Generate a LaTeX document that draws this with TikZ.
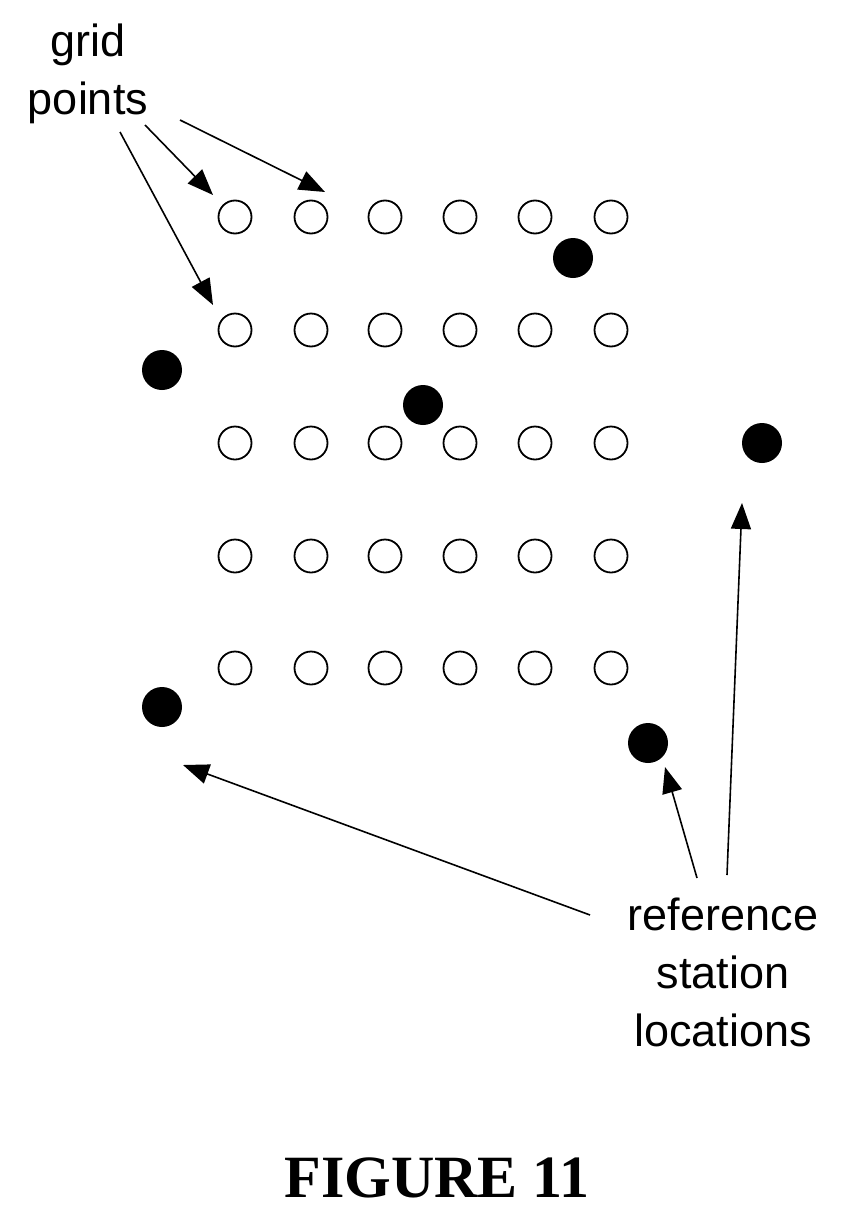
\documentclass[tikz,border=0pt]{standalone}
\usepackage{fontspec}
\setmainfont{Liberation Sans}
\newfontfamily\figfont{Liberation Serif}
\usetikzlibrary{arrows.meta}
\begin{document}
\begin{tikzpicture}[x=1pt,y=-1pt,
  grid/.style={circle,draw,line width=1.8pt,fill=white,minimum size=33pt,inner sep=0pt},
  st/.style={circle,fill=black,minimum size=40pt,inner sep=0pt},
  lab/.style={font=\fontsize{45}{58}\selectfont,align=center},
  arr/.style={line width=1.6pt,-{Triangle[length=26pt,width=20pt]}}]
\useasboundingbox (0,0) rectangle (847,1218);
\foreach \r/\y in {1/217,2/330,3/443,4/556,5/668}
  \foreach \c/\x in {1/235,2/311,3/385,4/460,5/535,6/611}
    \node[grid] (g\r\c) at (\x,\y) {};
\node[st] (s1) at (573,258) {};
\node[st] (s2) at (162,370) {};
\node[st] (s3) at (423,405) {};
\node[st] (s4) at (762,443) {};
\node[st] (s5) at (162,707) {};
\node[st] (s6) at (648,743) {};
\node[lab] (gp) at (88,74) {grid\\points};
\node[lab] (rs) at (723,972) {reference\\station\\locations};
\node[font=\figfont\bfseries\fontsize{60}{64}\selectfont] (fig) at (437,1178) {FIGURE 11};
\coordinate (a1s) at (145,125); \coordinate (a1e) at (213,195);
\coordinate (a2s) at (180,120); \coordinate (a2e) at (325,192);
\coordinate (a3s) at (120,132); \coordinate (a3e) at (213,305);
\coordinate (b1s) at (590,915); \coordinate (b1e) at (183,765);
\coordinate (b2s) at (697,878); \coordinate (b2e) at (665,767);
\coordinate (b3s) at (727,875); \coordinate (b3e) at (742,503);
\foreach \a in {a1,a2,a3,b1,b2,b3} \draw[arr] (\a s) -- (\a e);
\end{tikzpicture}
\end{document}
